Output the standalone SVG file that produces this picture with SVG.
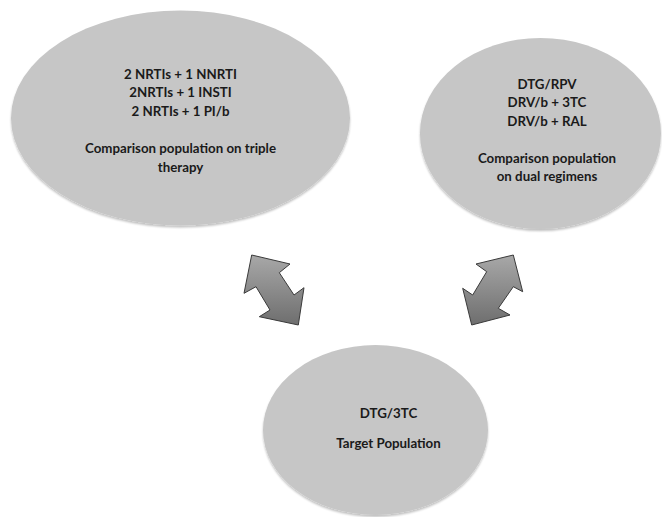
<svg xmlns="http://www.w3.org/2000/svg" width="662" height="517" viewBox="0 0 662 517">
<defs>
<linearGradient id="arrowGrad" x1="0" y1="0" x2="0" y2="1">
<stop offset="0" stop-color="#a8a8a8"/>
<stop offset="1" stop-color="#6e6e6e"/>
</linearGradient>
<filter id="sh" x="-5%" y="-5%" width="110%" height="115%">
<feGaussianBlur in="SourceAlpha" stdDeviation="1.2"/>
<feOffset dx="0" dy="1.5" result="b"/>
<feComponentTransfer><feFuncA type="linear" slope="0.25"/></feComponentTransfer>
<feMerge><feMergeNode/><feMergeNode in="SourceGraphic"/></feMerge>
</filter>
</defs>
<style>
.node{fill:#c6c6c6;}
.t{font-family:Lato,"Open Sans","Liberation Sans",sans-serif;font-weight:700;font-size:13.3px;fill:#1a1a1a;text-anchor:middle;}
.arrow{fill:url(#arrowGrad);stroke:#3a3a3a;stroke-width:1;stroke-linejoin:miter;}
</style>
<rect width="662" height="517" fill="#ffffff"/>
<g id="triple">
<ellipse class="node" cx="180.5" cy="118" rx="169.5" ry="107.5" filter="url(#sh)"/>
<text class="t" x="180.5" y="78.5">2 NRTIs + 1 NNRTI</text>
<text class="t" x="180.5" y="97">2NRTIs + 1 INSTI</text>
<text class="t" x="180.5" y="115.5">2 NRTIs + 1 PI/b</text>
<text class="t" x="180.5" y="153">Comparison population on triple</text>
<text class="t" x="180.5" y="172">therapy</text>
</g>
<g id="dual">
<ellipse class="node" cx="540.5" cy="133.5" rx="120.5" ry="95.5" filter="url(#sh)"/>
<text class="t" x="547" y="88.5">DTG/RPV</text>
<text class="t" x="547" y="107">DRV/b + 3TC</text>
<text class="t" x="547" y="126">DRV/b + RAL</text>
<text class="t" x="547" y="163">Comparison population</text>
<text class="t" x="547" y="181">on dual regimens</text>
</g>
<g id="target">
<ellipse class="node" cx="375.5" cy="430" rx="112.5" ry="85" filter="url(#sh)"/>
<text class="t" x="388.5" y="418">DTG/3TC</text>
<text class="t" x="388.5" y="448">Target Population</text>
</g>
<g id="connectors">
<polygon class="arrow" points="251.7,255 290,264 279.3,272.7 294,295 304,287.7 298.3,325 259.3,316.7 270,310 256,286.7 244,293.3"/>
<polygon class="arrow" points="513.3,255 522.7,291.7 513.3,286.7 498.3,308.3 510,315 471.7,325 462.7,288.3 472.7,295 486.7,271.7 476,264"/>
</g>
</svg>
